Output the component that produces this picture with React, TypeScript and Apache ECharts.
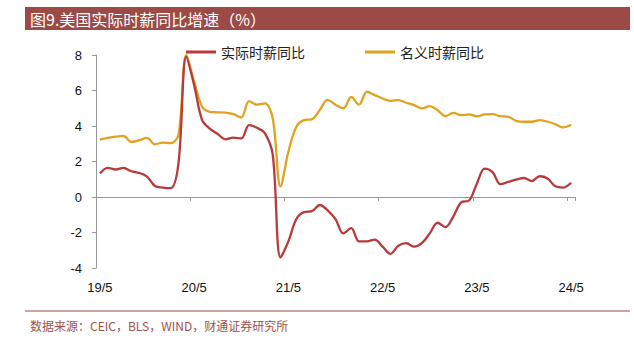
import React, { useEffect, useRef } from "react";
import * as echarts from "echarts";

const titleText = "图9.美国实际时薪同比增速（%）";
const sourceText = "数据来源：CEIC，BLS，WIND，财通证券研究所";
const seriesNames = ["实际时薪同比", "名义时薪同比"];

function buildMonths(): string[] {
  const out: string[] = [];
  let y = 19;
  let m = 5;
  for (let k = 0; k < 61; k++) {
    out.push(`${y}/${m}`);
    m++;
    if (m > 12) { m = 1; y++; }
  }
  return out;
}
const months = buildMonths();

const realWage = [
  1.32, 1.64, 1.55, 1.64, 1.45, 1.36, 1.15, 0.62, 0.53, 0.5,
  1.9, 7.9, 6.3, 4.35, 3.85, 3.55, 3.25, 3.35, 3.3, 4.05,
  3.9, 3.6, 2.4, -3.4, -2.5, -1.25, -0.85, -0.8, -0.45, -0.75,
  -1.25, -2.05, -1.75, -2.5, -2.5, -2.4, -2.8, -3.2, -2.75, -2.6,
  -2.8, -2.6, -2.05, -1.45, -1.7, -1.1, -0.3, -0.2, 0.75, 1.6,
  1.4, 0.72, 0.85, 0.98, 1.07, 0.9, 1.17, 1.04, 0.6, 0.53,
  0.8,
];

const nominalWage = [
  3.24, 3.33, 3.4, 3.44, 3.1, 3.2, 3.33, 2.97, 3.06, 3.03,
  3.5, 8.0, 6.5, 5.1, 4.8, 4.77, 4.75, 4.67, 4.48, 5.4,
  5.2, 5.27, 4.45, 0.6, 2.55, 3.95, 4.33, 4.38, 4.9, 5.47,
  5.2, 5.0, 5.64, 5.2, 5.93, 5.74, 5.55, 5.42, 5.46, 5.31,
  5.18, 4.99, 5.12, 4.89, 4.55, 4.74, 4.61, 4.65, 4.55, 4.65,
  4.67, 4.55, 4.52, 4.29, 4.24, 4.24, 4.33, 4.24, 4.1, 3.92,
  4.07,
];

const RED = "#B83A3A";
const GOLD = "#E2A11E";
const BRAND = "#9C4A45";

export default function App() {
  const ref = useRef<HTMLDivElement>(null);
  useEffect(() => {
    if (!ref.current) return;
    const chart = echarts.init(ref.current, null, { renderer: "svg" });
    const axisFont = "'Liberation Sans', Arial, sans-serif";
    const cjk = "'Noto Sans CJK SC', sans-serif";
    chart.setOption({
      animation: false,
      backgroundColor: "#ffffff",
      grid: { left: 96, right: 59, top: 55, bottom: 72, containLabel: false },
      legend: [
        {
          data: [seriesNames[0]],
          left: 181,
          top: 40,
          icon: "rect",
          itemWidth: 30,
          itemHeight: 3,
          textStyle: { fontFamily: cjk, fontSize: 14, color: "#222" },
        },
        {
          data: [seriesNames[1]],
          left: 360,
          top: 40,
          icon: "rect",
          itemWidth: 30,
          itemHeight: 3,
          textStyle: { fontFamily: cjk, fontSize: 14, color: "#222" },
        },
      ],
      xAxis: [
        {
          type: "category",
          data: months,
          boundaryGap: true,
          axisLine: { onZero: true, lineStyle: { color: "#999", width: 1 } },
          axisTick: { show: true, interval: 11, length: 4, lineStyle: { color: "#999" } },
          axisLabel: { show: false },
          splitLine: { show: false },
        },
        {
          type: "category",
          data: months,
          boundaryGap: true,
          position: "bottom",
          axisLine: { show: false, onZero: false },
          axisTick: { show: false },
          axisLabel: {
            show: true,
            interval: 11,
            margin: 13,
            fontFamily: axisFont,
            fontSize: 13,
            color: "#111",
          },
          splitLine: { show: false },
        },
      ],
      yAxis: {
        type: "value",
        min: -4,
        max: 8,
        interval: 2,
        axisLine: { show: true, lineStyle: { color: "#999", width: 1 } },
        axisTick: { show: true, length: 4, lineStyle: { color: "#999" } },
        axisLabel: { fontFamily: axisFont, fontSize: 13, color: "#111", margin: 14 },
        splitLine: { show: false },
      },
      series: [
        {
          name: seriesNames[0],
          type: "line",
          data: realWage,
          xAxisIndex: 0,
          smooth: 0.35,
          symbol: "none",
          lineStyle: { color: RED, width: 2.3 },
          itemStyle: { color: RED },
          z: 3,
        },
        {
          name: seriesNames[1],
          type: "line",
          data: nominalWage,
          xAxisIndex: 0,
          smooth: 0.35,
          symbol: "none",
          lineStyle: { color: GOLD, width: 2.3 },
          itemStyle: { color: GOLD },
          z: 2,
        },
      ],
      graphic: [
        {
          type: "rect",
          shape: { x: 25, y: 7, width: 605, height: 23 },
          style: { fill: BRAND },
          silent: true,
        },
        {
          type: "text",
          x: 30,
          y: 18.5,
          style: {
            text: titleText,
            fill: "#ffffff",
            font: `16px ${cjk}`,
            verticalAlign: "middle",
            align: "left",
          },
          silent: true,
        },
        {
          type: "line",
          shape: { x1: 25, y1: 311, x2: 630, y2: 311 },
          style: { stroke: BRAND, lineWidth: 1 },
          silent: true,
        },
        {
          type: "text",
          x: 30,
          y: 325,
          style: {
            text: sourceText,
            fill: "#A0524D",
            font: `12px ${cjk}`,
            verticalAlign: "middle",
            align: "left",
          },
          silent: true,
        },
      ],
    });
    return () => chart.dispose();
  }, []);
  return <div ref={ref} style={{ width: 634, height: 340, position: "fixed", left: 0, top: 0 }} />;
}
